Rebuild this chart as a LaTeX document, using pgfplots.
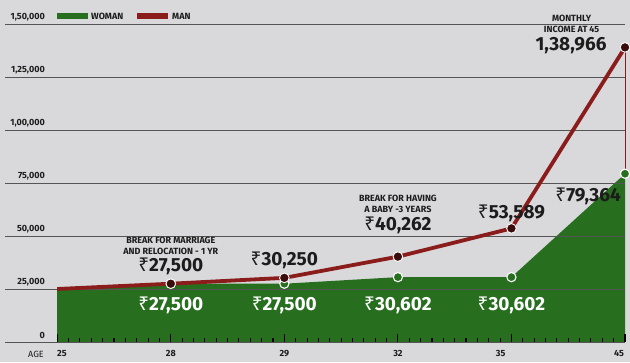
\documentclass[border=0pt]{standalone}
\usepackage{pgfplots}
\pgfplotsset{compat=1.18}
\usepackage{fontspec}
\setmainfont{Fira Sans}
\newfontfamily\rupfont{Noto Sans}
\newcommand\rs{{\rupfont\mdseries ₹}}
\definecolor{bg}{HTML}{D9D9DB}
\definecolor{wgreen}{HTML}{276E1F}
\definecolor{manred}{HTML}{8A1C1C}
\definecolor{mandot}{HTML}{3A0C0C}
\definecolor{gridcol}{HTML}{555555}
\definecolor{txt}{HTML}{1C1C1C}
\begin{document}
\begin{tikzpicture}
\fill[bg] (-5pt,-20pt) rectangle (625pt,342pt);
% base axis: area, grid, ticks
\begin{axis}[
  at={(0,0)}, anchor=south west, scale only axis,
  width=620pt, height=318pt,
  xmin=-0.46, xmax=5, ymin=0, ymax=150000,
  axis on top,
  axis line style={draw=none},
  scaled y ticks=false,
  xtick={0,1,2,3,4,5},
  xticklabels={{\makebox[0pt][l]{25}},28,29,32,{\makebox[0pt][r]{35\hspace{6pt}}},{\makebox[0pt][r]{45\hspace{1pt}}}},
  minor x tick num=9,
  tick align=inside,
  xtick pos=bottom,
  major tick length=8pt, minor tick length=4pt,
  x tick style={black, line width=1.1pt},
  xticklabel style={font=\fontsize{9}{9}\selectfont\bfseries, text=txt, inner sep=0pt, anchor=north, yshift=-8pt},
  ytick={0,25000,50000,75000,100000,125000,150000},
  yticklabels={0,{25,000},{50,000},{75,000},{1,00,000},{1,25,000},{1,50,000}},
  y tick style={draw=none},
  yticklabel style={font=\fontsize{9}{9}\selectfont\bfseries, text=txt, anchor=south east, inner sep=0pt, xshift=40pt, yshift=3pt},
  ymajorgrids,
  major grid style={gridcol, line width=0.9pt},
]
\addplot[fill=wgreen, draw=none] coordinates {
  (0,25000) (1,27500) (2,27500) (3,30602) (4,30602) (5,79364)
} \closedcycle;
\end{axis}
% overlay axis: lines, markers, annotations
\begin{axis}[
  at={(0,0)}, anchor=south west, scale only axis,
  width=620pt, height=318pt,
  xmin=-0.46, xmax=5, ymin=0, ymax=150000,
  hide axis, clip=false,
]
% woman markers
\addplot[only marks, mark=*, mark size=4.6pt, mark options={fill=wgreen, draw=white, line width=1.1pt}]
  coordinates {(1,27500) (2,27500) (3,30602) (4,30602) (5,79364)};
% connector at 45
\addplot[manred, line width=0.8pt] coordinates {(5,79364) (5,138966)};
% man line
\addplot[manred, line width=3.8pt] coordinates {
  (0,25000) (1,27500) (2,30250) (3,40262) (4,53589) (5,138966)
};
\addplot[only marks, mark=*, mark size=4.8pt, mark options={fill=mandot, draw=white, line width=0.9pt}]
  coordinates {(1,27500) (2,30250) (3,40262) (4,53589) (5,138966)};
% annotations
\begin{scope}[every node/.style={text=txt}]
\node[align=center, font=\fontsize{9}{11}\selectfont\bfseries] at (axis cs:1,45519) {BREAK FOR MARRIAGE\\AND RELOCATION - 1 YR};
\node[font=\fontsize{19}{19}\selectfont\bfseries] at (axis cs:1,35849) {\rs27,500};
\node[font=\fontsize{19}{19}\selectfont\bfseries] at (axis cs:2,38679) {\rs30,250};
\node[align=center, font=\fontsize{9}{11}\selectfont\bfseries] at (axis cs:3,65330) {BREAK FOR HAVING\\A BABY -3 YEARS};
\node[font=\fontsize{19}{19}\selectfont\bfseries] at (axis cs:3,55189) {\rs40,262};
\node[font=\fontsize{19}{19}\selectfont\bfseries] at (axis cs:4,60849) {\rs53,589};
\node[font=\fontsize{19}{19}\selectfont\bfseries] at (axis cs:4.675,68868) {\rs79,364};
\node[align=center, font=\fontsize{9}{11}\selectfont\bfseries] at (axis cs:4.53,150237) {MONTHLY\\INCOME AT 45};
\node[font=\fontsize{19}{19}\selectfont\bfseries] at (axis cs:4.525,139623) {1,38,966};
\end{scope}
\begin{scope}[every node/.style={text=white, font=\fontsize{19}{19}\selectfont\bfseries}]
\node at (axis cs:1,17453) {\rs27,500};
\node at (axis cs:2,17453) {\rs27,500};
\node at (axis cs:3,17453) {\rs30,602};
\node at (axis cs:4,17453) {\rs30,602};
\end{scope}
\end{axis}
% legend
\fill[wgreen] (52pt,323pt) rectangle (83pt,329pt);
\node[anchor=west, inner sep=0pt, text=txt, font=\fontsize{9}{9}\selectfont\bfseries] at (86pt,326pt) {WOMAN};
\fill[manred] (132pt,323pt) rectangle (163pt,329pt);
\node[anchor=west, inner sep=0pt, text=txt, font=\fontsize{9}{9}\selectfont\bfseries] at (167pt,326pt) {MAN};
% AGE label
\node[anchor=east, inner sep=0pt, text=txt, font=\fontsize{9}{9}\selectfont] at (39pt,-12pt) {AGE};
\pgfresetboundingbox
\path (-5pt,-20pt) rectangle (625pt,342pt);
\end{tikzpicture}
\end{document}
